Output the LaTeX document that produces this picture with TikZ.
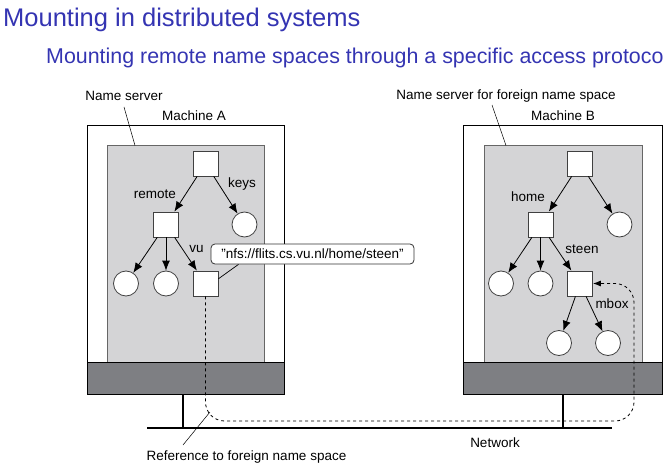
\documentclass[tikz,border=0pt]{standalone}
\usepackage{tikz}
\usepackage{xcolor}
\usepackage{fontspec}
\setmainfont{Liberation Sans}
\usetikzlibrary{arrows.meta}

\definecolor{titleblue}{RGB}{52,52,178}
\definecolor{spacegray}{RGB}{212,212,214}
\definecolor{osgray}{RGB}{126,127,131}

\begin{document}
\begin{tikzpicture}[x=1pt,y=-1pt,
		lbl/.style={font=\fontsize{13.5}{16}\selectfont, inner sep=0pt, anchor=base},
		dirnode/.style={draw=black!75, fill=white, line width=0.8pt, minimum size=25pt, inner sep=0pt},
		filenode/.style={circle, draw=black!75, fill=white, line width=0.8pt, minimum size=25pt, inner sep=0pt},
		edge/.style={line width=0.8pt, -{Latex[length=10pt,width=8pt]}},
		leader/.style={line width=0.5pt}]
				\useasboundingbox (0,0) rectangle (664,468);
				\clip (0,0) rectangle (664,468);
				
				\node[anchor=base west, inner sep=0pt, text=titleblue, font=\fontsize{25.5}{30}\selectfont] (title) at (3,27) {Mounting in distributed systems};
				\node[anchor=base west, inner sep=0pt, text=titleblue, font=\fontsize{21.4}{26}\selectfont] (subtitle) at (46,64) {Mounting remote name spaces through a specific access protoco};
				
				% the two machines
				\foreach \x/\w/\gx/\gw/\sx in {87/197/107/157/183, 463/199/484/158/563} {
					\draw[line width=1pt] (\x,126) rectangle (\x+\w,394);
					\draw[fill=spacegray, draw=black!60, line width=0.8pt] (\gx,145.5) rectangle (\gx+\gw,362);
					\draw[fill=osgray, line width=1pt] (\x,362) rectangle (\x+\w,394);
					\draw[line width=1.8pt] (\sx,394) -- (\sx,428);
				}
				\draw[line width=1.8pt] (147,428) -- (612,428);
				
				\node[lbl] (machA) at (194,121) {Machine A};
				\node[lbl] (machB) at (563,121) {Machine B};
				\node[lbl] (nsA) at (124,101) {Name server};
				\node[lbl] (nsB) at (506,100) {Name server for foreign name space};
				\node[lbl] (net) at (495,447) {Network};
				\node[lbl] (refnote) at (246.5,460) {Reference to foreign name space};
				\coordinate (nsAend) at (135,145.5);
				\coordinate (nsBend) at (506,145.5);
				\draw[leader] (124,107) -- (nsAend);
				\draw[leader] (492,105) -- (nsBend);
				
				% name space of machine A
				\node[dirnode] (rootA) at (205.5,163.5) {};
				\node[dirnode] (remote) at (166,224.5) {};
				\node[filenode] (keys) at (244.5,224.5) {};
				\node[filenode] (fileA1) at (126,283.5) {};
				\node[filenode] (fileA2) at (166,283.5) {};
				\node[dirnode] (vu) at (205.5,283.5) {};
				\draw[edge] (rootA) -- (remote);
				\draw[edge] (rootA) -- (keys);
				\foreach \c in {fileA1,fileA2,vu} {
					\draw[edge] (remote) -- (\c);
				}
				\node[lbl] at (155,198) {remote};
				\node[lbl] at (242,187) {keys};
				\node[lbl] at (196.5,252) {vu};
				
				% name space of machine B
				\node[dirnode] (rootB) at (580,163.5) {};
				\node[dirnode] (home) at (540.5,224.5) {};
				\node[filenode] (fileB0) at (619.5,224.5) {};
				\node[filenode] (fileB1) at (501,283.5) {};
				\node[filenode] (fileB2) at (540.5,283.5) {};
				\node[dirnode] (steen) at (580,283.5) {};
				\node[filenode] (fileB3) at (559,343) {};
				\node[filenode] (fileB4) at (608,343) {};
				\draw[edge] (rootB) -- (home);
				\draw[edge] (rootB) -- (fileB0);
				\foreach \c in {fileB1,fileB2,steen} {
					\draw[edge] (home) -- (\c);
				}
				\draw[edge] (steen) -- (fileB3);
				\draw[edge] (steen) -- (fileB4);
				\node[lbl] at (528,201) {home};
				\node[lbl] at (582,253) {steen};
				\node[lbl] at (612,308) {mbox};
				
				% mount point and reference
				\node[draw=black!80, fill=white, rounded corners=4pt, line width=0.8pt, minimum width=203pt, minimum height=20pt, inner sep=0pt, font=\fontsize{13.5}{16}\selectfont] (callout) at (312.5,254) {"nfs://flits.cs.vu.nl/home/steen"};
				\draw[leader, line width=0.7pt] (callout.188) -- (vu.20);
				\coordinate (netbend) at (634,421);
				\draw[dashed, line width=0.8pt, rounded corners=19pt, -{Latex[length=8pt,width=6pt]}] (vu.south) |- (netbend) |- (steen.east);
				\coordinate (refend) at (210,412);
				\draw[leader] (183,445) -- (refend);
			\end{tikzpicture}
\end{document}
